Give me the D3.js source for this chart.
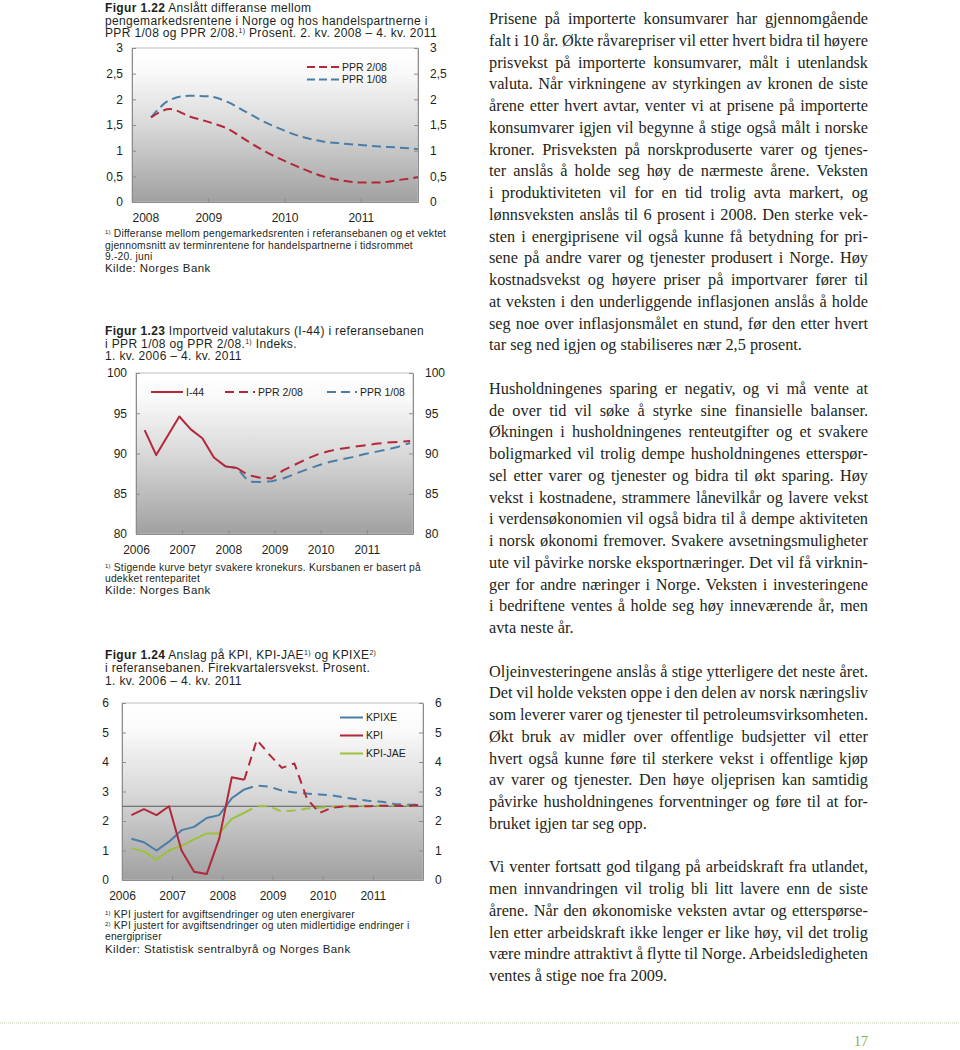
<!DOCTYPE html>
<html><head><meta charset="utf-8">
<script src="https://cdn.jsdelivr.net/npm/d3@7"></script>
<style>
body{margin:0;background:#fff;}
svg{display:block;}
</style></head><body><svg id="page" width="960" height="1050"></svg>
<script>
// ---------- DATA ----------
// Figure 1.22
const f22Quarters = ["2008 K2","2008 K3","2008 K4","2009 K1","2009 K2","2009 K3","2009 K4","2010 K1","2010 K2","2010 K3","2010 K4","2011 K1","2011 K2","2011 K3","2011 K4"];
const f22PPR208 = [1.65,1.81,1.67,1.56,1.43,1.20,0.98,0.80,0.64,0.50,0.42,0.38,0.38,0.43,0.48];
const f22PPR108 = [1.65,1.99,2.07,2.06,1.95,1.75,1.55,1.39,1.26,1.18,1.14,1.11,1.08,1.06,1.03];
const f22YTicks = [0,0.5,1,1.5,2,2.5,3];
const f22XTicks = [2008,2009,2010,2011];

// Figure 1.23
const f23Quarters = ["2006 K1","2006 K2","2006 K3","2006 K4","2007 K1","2007 K2","2007 K3","2007 K4","2008 K1","2008 K2","2008 K3","2008 K4","2009 K1","2009 K2","2009 K3","2009 K4","2010 K1","2010 K2","2010 K3","2010 K4","2011 K1","2011 K2","2011 K3","2011 K4"];
const f23I44 = [92.9,89.8,92.2,94.6,93.0,91.9,89.5,88.4,88.2,null,null,null,null,null,null,null,null,null,null,null,null,null,null,null];
const f23PPR208 = [null,null,null,null,null,null,null,null,88.2,87.3,87.0,86.9,87.9,88.6,89.3,89.9,90.3,90.6,90.8,91.0,91.2,91.35,91.45,91.55];
const f23PPR108 = [null,null,null,null,null,null,null,88.4,88.2,86.5,86.45,86.55,86.9,87.45,88.0,88.5,88.95,89.25,89.55,89.9,90.2,90.5,90.85,91.3];
const f23YTicks = [80,85,90,95,100];
const f23XTicks = [2006,2007,2008,2009,2010,2011];

// Figure 1.24
const f24Quarters = f23Quarters;
const f24KPI    = [2.2,2.4,2.2,2.5,1.0,0.28,0.2,1.4,3.48,3.4,4.75,4.25,3.8,3.95,2.75,2.27,2.45,2.5,2.5,2.5,2.52,2.52,2.5,2.55];
const f24KPIXE  = [1.4,1.28,1.0,1.3,1.69,1.8,2.1,2.2,2.77,3.07,3.2,3.16,3.03,2.97,2.93,2.9,2.87,2.8,2.73,2.68,2.65,2.58,2.56,2.55];
const f24KPIJAE = [1.08,0.97,0.69,1.0,1.16,1.38,1.58,1.58,2.07,2.28,2.5,2.5,2.32,2.36,2.42,2.45,2.48,2.5,2.5,2.52,2.52,2.53,2.52,2.52];
const f24LastActual = 9; // index of last observed quarter (2. kv. 2008)
const f24Target = 2.5;
const f24YTicks = [0,1,2,3,4,5,6];
const f24XTicks = [2006,2007,2008,2009,2010,2011];

// Body text
const para1 = [
"Prisene på importerte konsumvarer har gjennomgående",
"falt i 10 år. Økte råvarepriser vil etter hvert bidra til høyere",
"prisvekst på importerte konsumvarer, målt i utenlandsk",
"valuta. Når virkningene av styrkingen av kronen de siste",
"årene etter hvert avtar, venter vi at prisene på importerte",
"konsumvarer igjen vil begynne å stige også målt i norske",
"kroner. Prisveksten på norskproduserte varer og tjenes-",
"ter anslås å holde seg høy de nærmeste årene. Veksten",
"i produktiviteten vil for en tid trolig avta markert, og",
"lønnsveksten anslås til 6 prosent i 2008. Den sterke vek-",
"sten i energiprisene vil også kunne få betydning for pri-",
"sene på andre varer og tjenester produsert i Norge. Høy",
"kostnadsvekst og høyere priser på importvarer fører til",
"at veksten i den underliggende inflasjonen anslås å holde",
"seg noe over inflasjonsmålet en stund, før den etter hvert",
"tar seg ned igjen og stabiliseres nær 2,5 prosent."];
const para2 = [
"Husholdningenes sparing er negativ, og vi må vente at",
"de over tid vil søke å styrke sine finansielle balanser.",
"Økningen i husholdningenes renteutgifter og et svakere",
"boligmarked vil trolig dempe husholdningenes etterspør-",
"sel etter varer og tjenester og bidra til økt sparing. Høy",
"vekst i kostnadene, strammere lånevilkår og lavere vekst",
"i verdensøkonomien vil også bidra til å dempe aktiviteten",
"i norsk økonomi fremover. Svakere avsetningsmuligheter",
"ute vil påvirke norske eksportnæringer. Det vil få virknin-",
"ger for andre næringer i Norge. Veksten i investeringene",
"i bedriftene ventes å holde seg høy inneværende år, men",
"avta neste år."];
const para3 = [
"Oljeinvesteringene anslås å stige ytterligere det neste året.",
"Det vil holde veksten oppe i den delen av norsk næringsliv",
"som leverer varer og tjenester til petroleumsvirksomheten.",
"Økt bruk av midler over offentlige budsjetter vil etter",
"hvert også kunne føre til sterkere vekst i offentlige kjøp",
"av varer og tjenester. Den høye oljeprisen kan samtidig",
"påvirke husholdningenes forventninger og føre til at for-",
"bruket igjen tar seg opp."];
const para4 = [
"Vi venter fortsatt god tilgang på arbeidskraft fra utlandet,",
"men innvandringen vil trolig bli litt lavere enn de siste",
"årene. Når den økonomiske veksten avtar og etterspørse-",
"len etter arbeidskraft ikke lenger er like høy, vil det trolig",
"være mindre attraktivt å flytte til Norge. Arbeidsledigheten",
"ventes å stige noe fra 2009."];

// ---------- DRAWING ----------
const SANS = '"Liberation Sans", Arial, Helvetica, sans-serif';
const SERIF = '"Liberation Serif", "Times New Roman", serif';
const INK = "#231f20";
const RED = "#b3273a", BLUE = "#4a7ea8", GREEN = "#9cc23c", AXIS = "#8c8c8c";

const svg = d3.select("#page");
svg.append("rect").attr("width",960).attr("height",1050).attr("fill","#fff");
const defs = svg.append("defs");
const grad = defs.append("linearGradient").attr("id","bg").attr("x1",0).attr("y1",0).attr("x2",0).attr("y2",1);
[[0,"#ffffff"],[0.15,"#fafafa"],[0.5,"#d9d9d9"],[1,"#a0a0a0"]].forEach(s=>grad.append("stop").attr("offset",s[0]).attr("stop-color",s[1]));

function parseQ(s){ return {year:+s.slice(0,4), q:+s.slice(-1)}; }

function rich(g, x, y, parts, size, ls){
  const t = g.append("text").attr("x",x).attr("y",y)
    .attr("font-family",SANS).attr("font-size",size).attr("fill",INK)
    .style("letter-spacing",(ls||0)+"px");
  let up = false;
  parts.forEach(p=>{
    if(typeof p === "string") p = {t:p};
    const ts = t.append("tspan").text(p.t);
    if(p.b) ts.attr("font-weight","bold");
    if(p.sup){ ts.attr("font-size",size*0.58).attr("dy",-size*0.3); up = true; }
    else if(up){ ts.attr("dy",size*0.3); up = false; }
  });
  return t;
}

function styleAxis(sel, size){
  sel.attr("font-family",SANS).attr("font-size",size);
  sel.selectAll(".domain").attr("stroke",AXIS);
  sel.selectAll(".tick line").attr("stroke",AXIS);
  sel.selectAll(".tick text").attr("fill",INK);
}

function chart(o){
  const g = svg.append("g");
  const x = d3.scaleLinear().domain(o.xDomain).range([o.L,o.R]);
  const y = d3.scaleLinear().domain(o.yDomain).range([o.B,o.T]);
  g.append("rect").attr("x",o.L).attr("y",o.T).attr("width",o.R-o.L).attr("height",o.B-o.T)
    .attr("fill","url(#bg)").attr("stroke","#bdbdbd").attr("stroke-width",1);
  const fmt = v => String(v).replace(".",",");
  g.append("g").attr("transform",`translate(${o.L},0)`)
    .call(d3.axisLeft(y).tickValues(o.yTicks).tickSize(-4).tickSizeOuter(0).tickPadding(o.lp).tickFormat(fmt))
    .call(s=>styleAxis(s,12));
  g.append("g").attr("transform",`translate(${o.R},0)`)
    .call(d3.axisRight(y).tickValues(o.yTicks).tickSize(-4).tickSizeOuter(0).tickPadding(12).tickFormat(fmt))
    .call(s=>styleAxis(s,12));
  const bx = g.append("g").attr("transform",`translate(0,${o.B})`)
    .call(d3.axisBottom(x).tickValues(o.xTicks).tickSize(-4).tickSizeOuter(0).tickPadding(11).tickFormat(d3.format("d")))
    .call(s=>styleAxis(s,12));
  if(o.firstStart) bx.select(".tick text").attr("text-anchor","start");
  o.x = x; o.y = y; o.g = g;
  return o;
}

function drawLine(c, xs, vals, color, dash, from, to){
  const pts = [];
  for(let i=from;i<=to;i++){ if(vals[i]!=null) pts.push([xs[i], vals[i]]); }
  const line = d3.line().x(d=>c.x(d[0])).y(d=>c.y(d[1]));
  if(c.curve) line.curve(c.curve);
  const p = c.g.append("path").datum(pts).attr("d",line).attr("fill","none")
    .attr("stroke",color).attr("stroke-width",2).attr("stroke-linejoin","round");
  if(dash) p.attr("stroke-dasharray",dash);
  return p;
}

function legendItem(c, x1, x2, y, color, dash, label){
  const l = c.g.append("line").attr("x1",x1).attr("x2",x2).attr("y1",y).attr("y2",y)
    .attr("stroke",color).attr("stroke-width",2);
  if(dash) l.attr("stroke-dasharray",dash);
  c.g.append("text").attr("x",x2+3).attr("y",y).attr("dy","0.35em")
    .attr("font-family",SANS).attr("font-size",10.5).attr("fill",INK).text(label);
}

const LX = 105;
const TS = 12, TLS = 0.35, FS = 10.3, FLS = 0.2, KS = 11.5;

// ----- Figure 1.22 -----
{
  const tg = svg.append("g");
  rich(tg, LX, 12, [{t:"Figur 1.22",b:1}," Anslått differanse mellom"], TS, TLS);
  rich(tg, LX, 24.5, ["pengemarkedsrentene i Norge og hos handelspartnerne i"], TS, TLS);
  rich(tg, LX, 37, ["PPR 1/08 og PPR 2/08.",{t:"1)",sup:1}," Prosent. 2. kv. 2008 – 4. kv. 2011"], TS, TLS);
  const c = chart({L:132,R:418,T:48,B:202,xDomain:[2008,2011.75],yDomain:[0,3],yTicks:f22YTicks,xTicks:f22XTicks,lp:9,firstStart:true});
  c.curve = d3.curveMonotoneX;
  const xs = f22Quarters.map(s=>{const p=parseQ(s); return p.year+(p.q-1)/4;});
  drawLine(c, xs, f22PPR108, BLUE, "9,5", 0, xs.length-1);
  drawLine(c, xs, f22PPR208, RED, "9,5", 0, xs.length-1);
  legendItem(c, 307, 339, 67, RED, "8,4", "PPR 2/08");
  legendItem(c, 307, 339, 79.5, BLUE, "8,4", "PPR 1/08");
  rich(tg, LX, 237, [{t:"1)",sup:1}," Differanse mellom pengemarkedsrenten i referansebanen og et vektet"], FS, FLS);
  rich(tg, LX, 248.5, ["gjennomsnitt av terminrentene for handelspartnerne i tidsrommet"], FS, FLS);
  rich(tg, LX, 260, ["9.-20. juni"], FS, FLS);
  rich(tg, LX, 271.5, ["Kilde: Norges Bank"], KS, 0.4);
}

// ----- Figure 1.23 -----
{
  const tg = svg.append("g");
  rich(tg, LX, 335, [{t:"Figur 1.23",b:1}," Importveid valutakurs (I-44) i referansebanen"], TS, TLS);
  rich(tg, LX, 347.5, ["i PPR 1/08 og PPR 2/08.",{t:"1)",sup:1}," Indeks."], TS, TLS);
  rich(tg, LX, 360, ["1. kv. 2006 – 4. kv. 2011"], TS, TLS);
  const c = chart({L:136,R:413,T:373,B:534,xDomain:[2006,2012],yDomain:[80,100],yTicks:f23YTicks,xTicks:f23XTicks,lp:9});
  const xs = f23Quarters.map(s=>{const p=parseQ(s); return p.year+(p.q-0.25)/4;});
  drawLine(c, xs, f23PPR108, BLUE, "10,6", 0, xs.length-1);
  drawLine(c, xs, f23PPR208, RED, "10,6", 0, xs.length-1);
  drawLine(c, xs, f23I44, RED, null, 0, xs.length-1);
  legendItem(c, 151, 183, 392, RED, null, "I-44");
  legendItem(c, 225, 255, 392, RED, "9,5", "PPR 2/08");
  legendItem(c, 327, 357, 392, BLUE, "9,5", "PPR 1/08");
  rich(tg, LX, 571, [{t:"1)",sup:1}," Stigende kurve betyr svakere kronekurs. Kursbanen er basert på"], FS, FLS);
  rich(tg, LX, 582, ["udekket renteparitet"], FS, FLS);
  rich(tg, LX, 593.5, ["Kilde: Norges Bank"], KS, 0.4);
}

// ----- Figure 1.24 -----
{
  const tg = svg.append("g");
  rich(tg, LX, 659, [{t:"Figur 1.24",b:1}," Anslag på KPI, KPI-JAE",{t:"1)",sup:1}," og KPIXE",{t:"2)",sup:1}], TS, TLS);
  rich(tg, LX, 672, ["i referansebanen. Firekvartalersvekst. Prosent."], TS, TLS);
  rich(tg, LX, 685, ["1. kv. 2006 – 4. kv. 2011"], TS, TLS);
  const c = chart({L:122,R:423,T:703,B:880,xDomain:[2006,2012],yDomain:[0,6],yTicks:f24YTicks,xTicks:f24XTicks,lp:13});
  c.g.append("line").attr("x1",c.L).attr("x2",c.R).attr("y1",c.y(f24Target)).attr("y2",c.y(f24Target))
    .attr("stroke","#5a5a5a").attr("stroke-width",1);
  const xs = f24Quarters.map(s=>{const p=parseQ(s); return p.year+(p.q-0.25)/4;});
  const n = xs.length-1;
  drawLine(c, xs, f24KPIJAE, GREEN, null, 0, f24LastActual);
  drawLine(c, xs, f24KPIJAE, GREEN, "9,6", f24LastActual, n);
  drawLine(c, xs, f24KPIXE, BLUE, null, 0, f24LastActual);
  drawLine(c, xs, f24KPIXE, BLUE, "9,6", f24LastActual, n);
  drawLine(c, xs, f24KPI, RED, null, 0, f24LastActual);
  drawLine(c, xs, f24KPI, RED, "9,6", f24LastActual, n);
  legendItem(c, 340, 363, 717.5, BLUE, null, "KPIXE");
  legendItem(c, 340, 363, 735.5, RED, null, "KPI");
  legendItem(c, 340, 363, 753.5, GREEN, null, "KPI-JAE");
  rich(tg, LX, 918, [{t:"1)",sup:1}," KPI justert for avgiftsendringer og uten energivarer"], FS, FLS);
  rich(tg, LX, 929, [{t:"2)",sup:1}," KPI justert for avgiftsendringer og uten midlertidige endringer i"], FS, FLS);
  rich(tg, LX, 940, ["energipriser"], FS, FLS);
  rich(tg, LX, 953, ["Kilder: Statistisk sentralbyrå og Norges Bank"], KS, 0.4);
}

// ----- Body text (justified) -----
{
  const tg = svg.append("g").attr("font-family",SERIF).attr("font-size",16.3).attr("fill",INK);
  const X0 = 489, W = 379;
  const paras = [{k0:0,lines:para1},{k0:17,lines:para2},{k0:30,lines:para3},{k0:39,lines:para4}];
  paras.forEach(p=>p.lines.forEach((ln,i)=>{
    const yb = 24 + 21.75*(p.k0+i);
    const t = tg.append("text").attr("x",X0).attr("y",yb).text(ln);
    if(i < p.lines.length-1){
      const w = t.node().getComputedTextLength();
      const ns = (ln.match(/ /g)||[]).length;
      if(ns>0) t.style("word-spacing",((W-w)/ns)+"px");
      const w2 = t.node().getComputedTextLength();
      if(Math.abs(w2-W)>1.5){ t.style("word-spacing",null).attr("textLength",W).attr("lengthAdjust","spacing"); }
    }
  }));
}

// ----- Footer -----
svg.append("line").attr("x1",0).attr("x2",960).attr("y1",1023).attr("y2",1023)
  .attr("stroke","#d6e2c4").attr("stroke-width",1.5).attr("stroke-dasharray","1,1");
svg.append("text").attr("x",861).attr("y",1046).attr("text-anchor","middle")
  .attr("font-family",SERIF).attr("font-size",14).attr("fill","#8aab4a").text("17");
</script></body></html>
